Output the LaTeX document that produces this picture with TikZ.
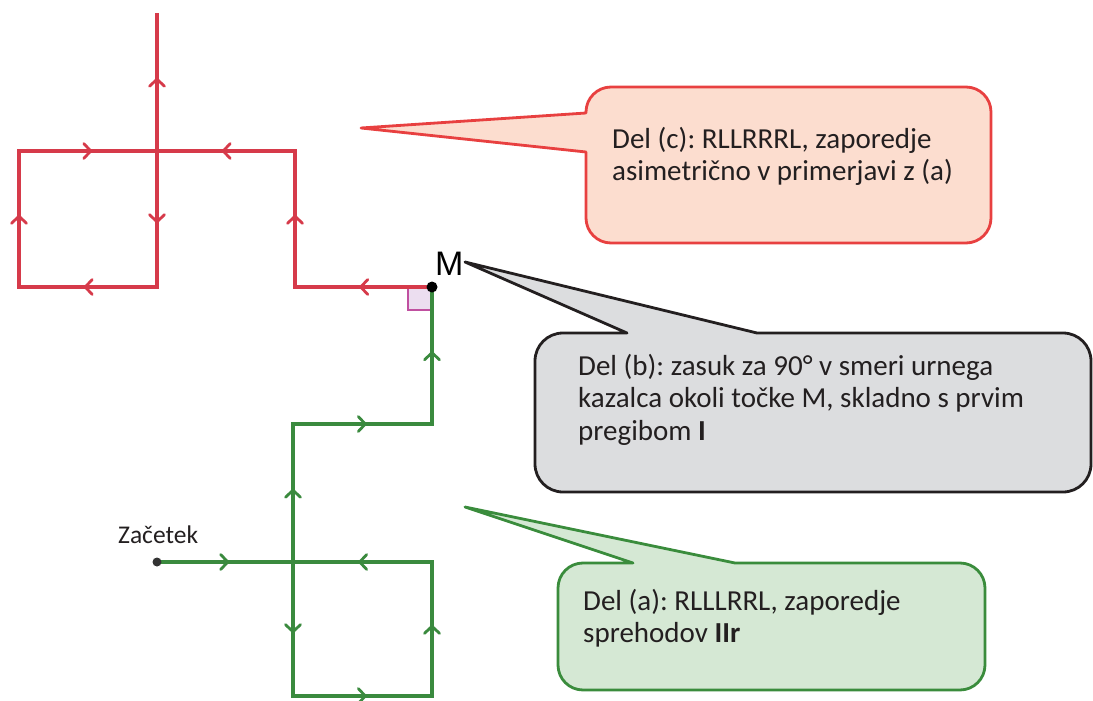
\documentclass[tikz,border=0pt]{standalone}
\usepackage{fontspec}
\setmainfont{Carlito}
\newfontfamily\mfont{Liberation Sans}
\usetikzlibrary{decorations.markings}
\definecolor{pathred}{RGB}{214,58,74}
\definecolor{pathgreen}{RGB}{58,138,62}
\definecolor{callred}{RGB}{232,64,64}
\definecolor{fillred}{RGB}{252,221,207}
\definecolor{callgray}{RGB}{35,31,32}
\definecolor{fillgray}{RGB}{220,221,223}
\definecolor{callgreen}{RGB}{58,140,60}
\definecolor{fillgreen}{RGB}{213,232,212}
\definecolor{textdark}{RGB}{35,31,32}
\definecolor{anglebox}{RGB}{192,80,160}
\definecolor{anglefill}{RGB}{236,222,240}
\frenchspacing
\begin{document}
\begin{tikzpicture}[x=1pt,y=-1pt,
  redline/.style={draw=pathred,line width=3.4pt,line join=miter},
  greenline/.style={draw=pathgreen,line width=3.4pt,line join=miter},
  midarrow/.style={postaction={decorate},decoration={markings,
     mark=at position 0.52 with {\draw[draw=#1,line width=2.8pt,line join=miter,line cap=round] (-7pt,-7.5pt) -- (0pt,0pt) -- (-7pt,7.5pt);}}},
  callout/.style={line width=2.8pt,line join=round},
  txt/.style={font=\fontsize{29}{32.5}\selectfont,align=left,inner sep=0pt,text=textdark,anchor=north west}]
\useasboundingbox (0,0) rectangle (1093,701);

% coordinates of the red walk
\coordinate (M) at (432,287);
\coordinate (r1) at (295,287);
\coordinate (r2) at (295,151);
\coordinate (rc) at (157,151);
\coordinate (r3) at (157,287);
\coordinate (r4) at (19,287);
\coordinate (r5) at (19,151);
\coordinate (rtop) at (157,13);
% coordinates of the green walk
\coordinate (S) at (157,562);
\coordinate (g1) at (293,562);
\coordinate (g2) at (293,696);
\coordinate (g3) at (432,696);
\coordinate (g4) at (432,562);
\coordinate (g5) at (293,424);
\coordinate (g6) at (432,424);

% right angle mark
\draw[draw=anglebox,fill=anglefill,line width=1.2pt] (408,287) rectangle (432,310);

% red walk
\draw[redline] (M) -- (r1) -- (r2) -- (rc) -- (r3) -- (r4) -- (r5) -- (rc) -- (rtop);
\foreach \a/\b in {M/r1,r1/r2,r2/rc,rc/r3,r3/r4,r4/r5,r5/rc,rc/rtop}
  \path[midarrow=pathred] (\a) -- (\b);

% green walk
\draw[greenline] (S) -- (g1) -- (g2) -- (g3) -- (g4) -- (g1) -- (g5) -- (g6) -- (M);
\foreach \a/\b in {S/g1,g1/g2,g2/g3,g3/g4,g4/g1,g1/g5,g5/g6,g6/M}
  \path[midarrow=pathgreen] (\a) -- (\b);

% points
\fill[black] (M) circle (5.5);
\fill[black!80] (S) circle (4.5);
\node[font=\mfont\fontsize{34}{34}\selectfont,anchor=base west,inner sep=0pt] (Mlabel) at (435,275) {M};
\node[font=\fontsize{25.5}{28}\selectfont,anchor=base west,inner sep=0pt,text=textdark] (start) at (118,543) {Začetek};

% red callout
\draw[callout,draw=callred,fill=fillred] (611,87) -- (966,87)
  .. controls (979.8,87) and (991,98.2) .. (991,112) -- (991,218)
  .. controls (991,231.8) and (979.8,243) .. (966,243) -- (611,243)
  .. controls (597.2,243) and (586,231.8) .. (586,218) -- (586,152)
  -- (361,128) -- (586,113) -- (586,112)
  .. controls (586,98.2) and (597.2,87) .. (611,87) -- cycle;
\node[txt] (ctext) at (612,124) {\rule{0pt}{24pt}Del (c): RLLRRRL, zaporedje\\asimetrično v primerjavi z (a)};

% gray callout
\draw[callout,draw=callgray,fill=fillgray] (563,333) -- (627,333) -- (465,262) -- (757,333) -- (1063,333)
  .. controls (1078.5,333) and (1091,345.5) .. (1091,361) -- (1091,464)
  .. controls (1091,479.5) and (1078.5,492) .. (1063,492) -- (563,492)
  .. controls (547.5,492) and (535,479.5) .. (535,464) -- (535,361)
  .. controls (535,345.5) and (547.5,333) .. (563,333) -- cycle;
\node[txt] (btext) at (578,351) {\rule{0pt}{24pt}Del (b): zasuk za 90° v smeri urnega\\kazalca okoli točke M, skladno s prvim\\pregibom \textbf{I}};

% green callout
\draw[callout,draw=callgreen,fill=fillgreen] (583,563) -- (633,563) -- (465,507) -- (735,563) -- (960,563)
  .. controls (973.8,563) and (985,574.2) .. (985,588) -- (985,665)
  .. controls (985,678.8) and (973.8,690) .. (960,690) -- (583,690)
  .. controls (569.2,690) and (558,678.8) .. (558,665) -- (558,588)
  .. controls (558,574.2) and (569.2,563) .. (583,563) -- cycle;
\node[txt] (atext) at (583,586) {\rule{0pt}{24pt}Del (a): RLLLRRL, zaporedje\\sprehodov \textbf{IIr}};
\end{tikzpicture}
\end{document}
